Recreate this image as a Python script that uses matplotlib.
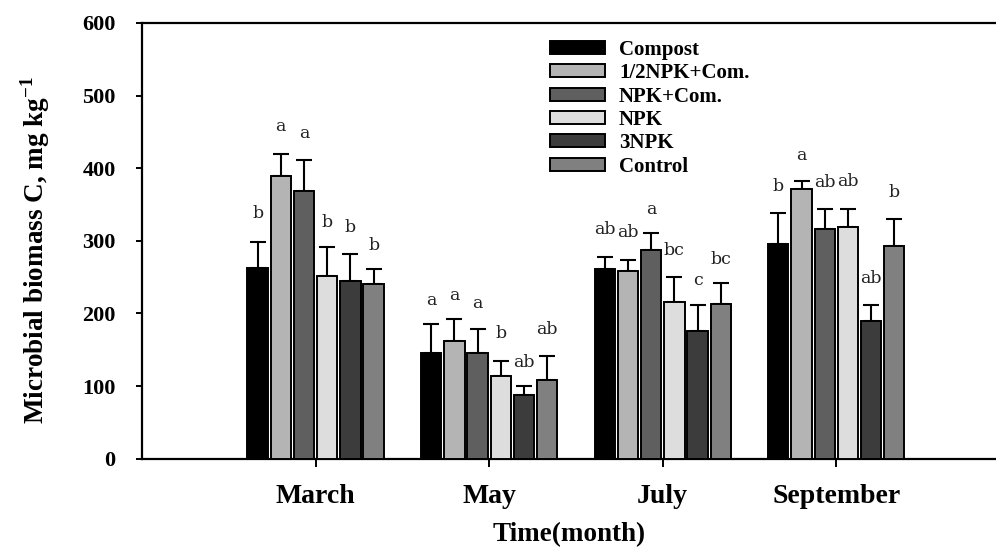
import numpy as np
import matplotlib
matplotlib.use('Agg')
import matplotlib.pyplot as plt
from matplotlib.patches import Patch

plt.rcParams['font.family'] = ['Liberation Serif', 'DejaVu Serif']
plt.rcParams['mathtext.fontset'] = 'custom'
plt.rcParams['mathtext.rm'] = 'Liberation Serif:bold'
plt.rcParams['mathtext.bf'] = 'Liberation Serif:bold'

# ---------------- data ----------------
months = ['March', 'May', 'July', 'September']
treatments = ['Compost', '1/2NPK+Com.', 'NPK+Com.', 'NPK', '3NPK', 'Control']

compost      = [263, 146, 261, 295]
half_npk_com = [389, 162, 259, 372]
npk_com      = [369, 146, 287, 316]
npk          = [252, 114, 216, 319]
npk3         = [245, 88, 176, 189]
control      = [240, 108, 213, 293]

compost_err      = [36, 39, 17, 43]
half_npk_com_err = [31, 30, 15, 10]
npk_com_err      = [42, 32, 24, 28]
npk_err          = [39, 21, 34, 25]
npk3_err         = [37, 12, 36, 23]
control_err      = [21, 34, 29, 37]

# significance letters (per month, per treatment)
letters_march = ['b', 'a', 'a', 'b', 'b', 'b']
letters_may   = ['a', 'a', 'a', 'b', 'ab', 'ab']
letters_july  = ['ab', 'ab', 'a', 'bc', 'c', 'bc']
letters_sep   = ['b', 'a', 'ab', 'ab', 'ab', 'b']
# heights (data units) at which the letters are printed
letter_y_march = [338, 457, 448, 325, 318, 294]
letter_y_may   = [218, 225, 214, 173, 132, 178]
letter_y_july  = [315, 312, 343, 287, 246, 274]
letter_y_sep   = [375, 418, 381, 382, 248, 366]

# ---------------- style ----------------
means = [compost, half_npk_com, npk_com, npk, npk3, control]
errs = [compost_err, half_npk_com_err, npk_com_err, npk_err, npk3_err, control_err]
letters = [letters_march, letters_may, letters_july, letters_sep]
letter_ys = [letter_y_march, letter_y_may, letter_y_july, letter_y_sep]
colors = ['#000000', '#b4b4b4', '#5f5f5f', '#dddddd', '#3c3c3c', '#808080']

fig = plt.figure(figsize=(9.96, 5.54), dpi=100)
ax = fig.add_axes([0.1426, 0.172, 0.8574, 0.7865])

step = 0.1337
width = 0.117
xc = np.arange(1, len(months) + 1)

for i, (m, e) in enumerate(zip(means, errs)):
    xs = xc + (i - 2.5) * step
    ax.bar(xs, m, width=width, color=colors[i], edgecolor='black',
           linewidth=1.4, zorder=3)
    ax.errorbar(xs, m, yerr=[np.zeros(len(e)), e], fmt='none', ecolor='black',
                elinewidth=1.5, capsize=5.5, capthick=1.5, zorder=2)

for j in range(len(months)):
    for i in range(len(treatments)):
        x = xc[j] + (i - 2.5) * step
        ax.text(x, letter_ys[j][i], letters[j][i], ha='center', va='center',
                fontsize=12.5, family=['DejaVu Serif'], color='#222222', zorder=4)

ax.set_xlim(0, 4.92)
ax.set_ylim(0, 600)
ax.set_yticks(np.arange(0, 700, 100))
ax.set_xticks(xc)
ax.set_xticklabels(months, fontsize=20, fontweight='bold')
for lab in ax.get_yticklabels():
    lab.set_fontsize(16)
    lab.set_fontweight('bold')

ax.spines['right'].set_visible(False)
for s in ['left', 'bottom', 'top']:
    ax.spines[s].set_linewidth(1.6)
ax.tick_params(axis='x', direction='out', length=6, width=1.4, pad=12)
ax.tick_params(axis='y', direction='out', length=4, width=1.4, pad=15)

ax.set_xlabel('Time(month)', fontsize=19.5, fontweight='bold', labelpad=10)
ax.set_ylabel('Microbial biomass C, mg kg$^{-1}$', fontsize=19.5,
              fontweight='bold')
ax.yaxis.set_label_coords(-0.105, 0.479)

handles = [Patch(facecolor=c, edgecolor='black', linewidth=1.4) for c in colors]
leg = ax.legend(handles, treatments, loc='upper left',
                bbox_to_anchor=(550 / 996, 1 - 40 / 554),
                bbox_transform=fig.transFigure, frameon=False,
                prop={'family': 'Liberation Serif', 'weight': 'bold', 'size': 15},
                handlelength=2.64, handleheight=0.58, handletextpad=0.67,
                labelspacing=0.16, borderpad=0, borderaxespad=0)

fig.savefig('out.png', dpi=100, facecolor='white')
